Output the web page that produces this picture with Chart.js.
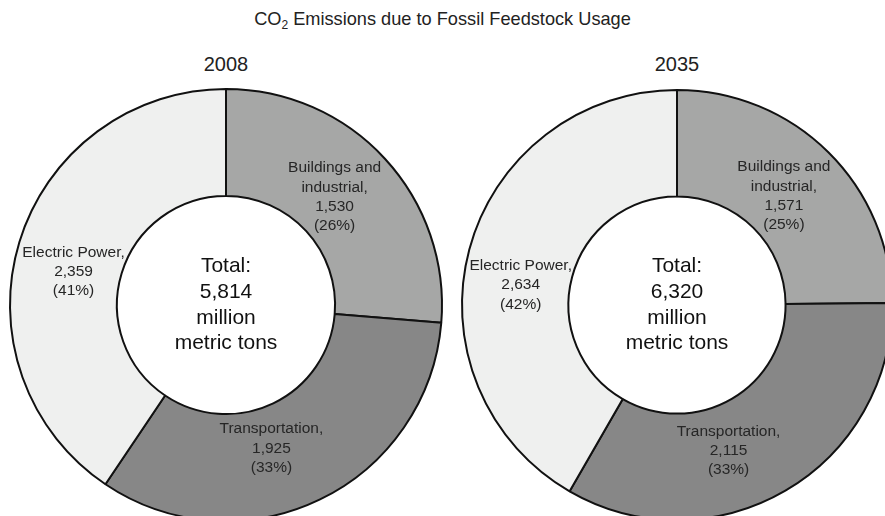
<!DOCTYPE html>
<html>
<head>
<meta charset="utf-8">
<script src="https://cdn.jsdelivr.net/npm/chart.js@4/dist/chart.umd.min.js"></script>
<style>
  html, body { margin: 0; padding: 0; background: #fff; }
  body { width: 885px; height: 516px; position: relative; overflow: hidden;
         font-family: "Liberation Sans", Arial, Helvetica, sans-serif; color: #222; }
  #title { position: absolute; top: 9px; left: 0; width: 885px; text-align: center;
           font-size: 18.2px; white-space: nowrap; }
  #title sub { font-size: 12px; vertical-align: -4px; line-height: 0; }
  .year { position: absolute; top: 53px; width: 120px; text-align: center; font-size: 20px; }
  canvas { position: absolute; }
</style>
</head>
<body>
<div id="title">CO<sub>2</sub> Emissions due to Fossil Feedstock Usage</div>
<div class="year" id="year0"></div>
<div class="year" id="year1"></div>
<canvas id="c0" width="460" height="460"></canvas>
<canvas id="c1" width="460" height="460"></canvas>
<script>
// Sectors, clockwise from 12 o'clock
const sectors = ['Buildings and industrial', 'Transportation', 'Electric Power'];
const sectorLines = [['Buildings and', 'industrial,'], ['Transportation,'], ['Electric Power,']];
const years = ['2008', '2035'];
// Million metric tons of CO2
const emissions2008 = [1530, 1925, 2359];
const emissions2035 = [1571, 2115, 2634];
const shares2008 = [26, 33, 41];
const shares2035 = [25, 33, 42];
const totals = [5814, 6320];

const sectorColors = ['#a6a7a6', '#878787', '#eff0ef'];

// Per-panel layout: ring centre, outer radius, label nudges from the mid-ring point
const panels = [
  { cx: 226, cy: 305, r: 216, nudge: [[-11, 2], [-25, -3], [3, 14]] },
  { cx: 677, cy: 305, r: 215, nudge: [[-7, 6], [-30, 6], [0, 22]] }
];

const fmt = v => v.toLocaleString('en-US');

const ringLabels = {
  id: 'ringLabels',
  afterDatasetsDraw(chart, args, opts) {
    const ctx = chart.ctx;
    const meta = chart.getDatasetMeta(0);
    const ds = chart.data.datasets[0];
    ctx.save();
    ctx.textAlign = 'center';
    ctx.textBaseline = 'middle';
    meta.data.forEach((arc, i) => {
      const p = arc.getProps(['x', 'y', 'startAngle', 'endAngle', 'innerRadius', 'outerRadius'], true);
      const mid = (p.startAngle + p.endAngle) / 2;
      const rr = (p.innerRadius + p.outerRadius) / 2;
      const x = p.x + Math.cos(mid) * rr + opts.nudge[i][0];
      const y = p.y + Math.sin(mid) * rr + opts.nudge[i][1];
      const lines = sectorLines[i].concat([fmt(ds.data[i]), '(' + opts.shares[i] + '%)']);
      const lh = 19.3;
      ctx.font = '15.5px "Liberation Sans", Arial, sans-serif';
      ctx.fillStyle = '#262626';
      lines.forEach((t, k) => ctx.fillText(t, x, y + (k - (lines.length - 1) / 2) * lh));
    });
    // Total in the hole
    const c = meta.data[0];
    const centre = ['Total:', fmt(opts.total), 'million', 'metric tons'];
    ctx.font = '21px "Liberation Sans", Arial, sans-serif';
    ctx.fillStyle = '#111';
    const lh2 = 25.7;
    centre.forEach((t, k) => ctx.fillText(t, c.x, c.y + (k - (centre.length - 1) / 2) * lh2));
    ctx.restore();
  }
};

function makePanel(idx, values, shares) {
  const pn = panels[idx];
  const cv = document.getElementById('c' + idx);
  cv.style.left = (pn.cx - 230) + 'px';
  cv.style.top = (pn.cy - 230) + 'px';
  const yr = document.getElementById('year' + idx);
  yr.textContent = years[idx];
  yr.style.left = (pn.cx - 60) + 'px';
  new Chart(cv, {
    type: 'doughnut',
    data: {
      labels: sectors,
      datasets: [{
        data: values,
        backgroundColor: sectorColors,
        borderColor: '#111',
        borderWidth: 2,
        radius: pn.r,
        cutout: '50.5%'
      }]
    },
    options: {
      responsive: false,
      animation: false,
      events: [],
      layout: { padding: 0 },
      plugins: {
        legend: { display: false },
        tooltip: { enabled: false },
        title: { display: false },
        ringLabels: { nudge: pn.nudge, shares: shares, total: totals[idx] }
      }
    },
    plugins: [ringLabels]
  });
}

makePanel(0, emissions2008, shares2008);
makePanel(1, emissions2035, shares2035);
</script>
</body>
</html>
